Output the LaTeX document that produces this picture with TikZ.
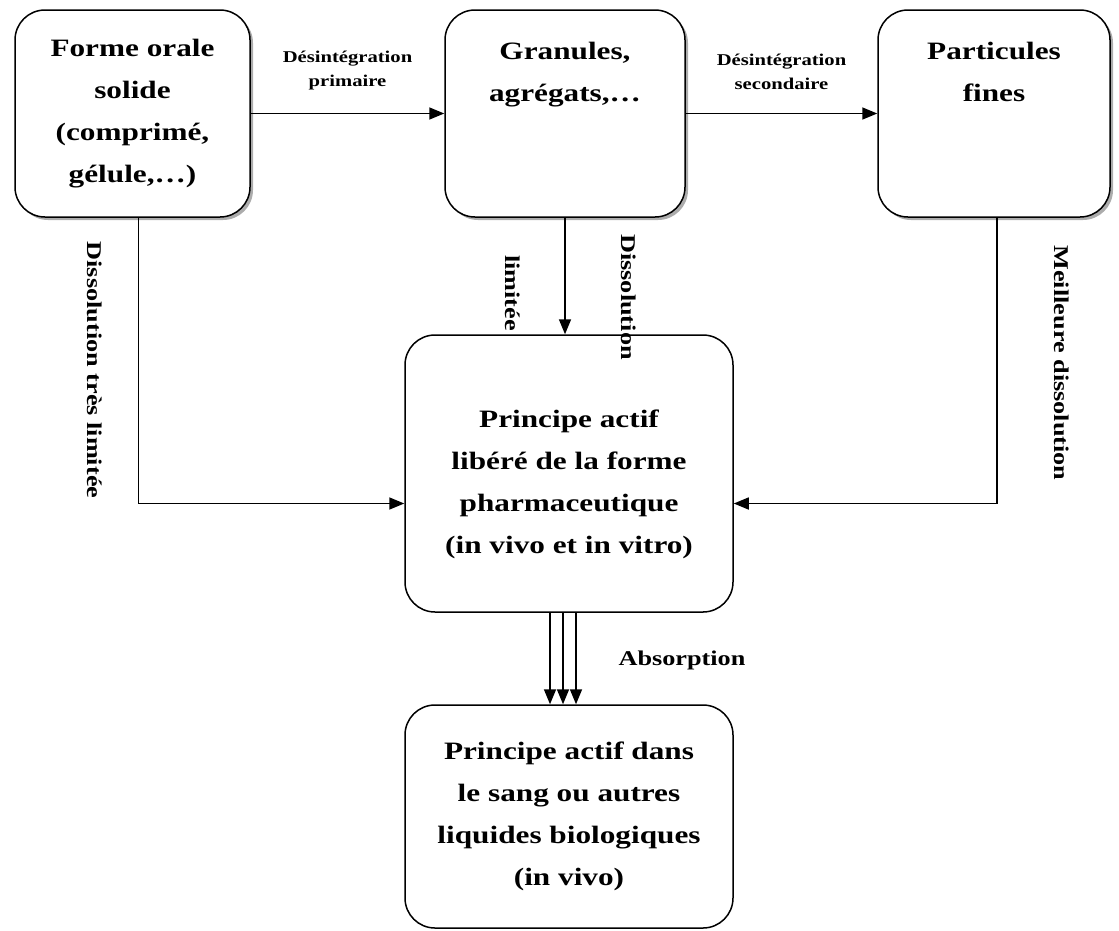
\documentclass[tikz,border=0pt]{standalone}
\usepackage{fontspec}
\setmainfont[FakeStretch=1.25]{Liberation Serif}
\usepackage{tikz}
\usetikzlibrary{arrows.meta, positioning, shadows}

\begin{document}
\begin{tikzpicture}[x=1pt, y=-1pt]
\tikzset{
  etape/.style={rectangle,rounded corners=30pt,draw=black,line width=1.5pt,fill=white,align=center,inner sep=0pt,font=\fontsize{25}{42}\selectfont\bfseries},
  ombre/.style={drop shadow={shadow xshift=3pt,shadow yshift=-3pt,fill=black!65}},
  ar/.style={-{Triangle[length=15pt,width=12pt]},line width=1.6pt,draw=black},
  lab/.style={font=\fontsize{16.5}{24}\selectfont\bfseries,align=center,inner sep=1pt},
  vlab/.style={font=\fontsize{21}{25}\selectfont\bfseries,rotate=-90,inner sep=1pt}
}
\useasboundingbox (0,0) rectangle (1119,930);
% ---- les formes
\node[etape,ombre,minimum width=235pt,minimum height=207pt] (forme) at (132.5,113.5) {Forme orale\\solide\\(comprimé,\\gélule,…)};
\node[etape,ombre,minimum width=240pt,minimum height=207pt] (gran) at (565,113.5) {Granules,\\agrégats,…\\~\\~};
\node[etape,ombre,minimum width=232pt,minimum height=207pt] (fines) at (994,113.5) {Particules\\fines\\~\\~};
\node[etape,minimum width=328pt,minimum height=277pt] (pa) at (569,473.5) {~\\[-2pt]Principe actif\\libéré de la forme\\pharmaceutique\\(in vivo et in vitro)};
\node[etape,minimum width=328pt,minimum height=223pt] (sang) at (569,816.5) {Principe actif dans\\le sang ou autres\\liquides biologiques\\(in vivo)};
% ---- les labels verticaux
\node[vlab] (dtl) at (95,370) {Dissolution très limitée};
\node[vlab] (lim) at (513,293) {limitée};
\node[vlab] (dis) at (629,297) {Dissolution};
\node[vlab] (mdi) at (1062,363) {Meilleure dissolution};
\node[lab,font=\fontsize{21}{25}\selectfont\bfseries] (abs) at (682,660) {Absorption};
% ---- les flèches
\draw[ar] (forme.east) -- node[lab,above=22pt] {Désintégration\\primaire} (gran.west);
\draw[ar] (gran.east) -- node[lab,above=22pt] {Désintégration\\secondaire} (fines.west);
\draw[ar] (gran.south) -- (gran.south |- pa.north);
\draw[ar] ([xshift=6pt]forme.south) |- ([yshift=-30pt]pa.west);
\draw[ar] ([xshift=3pt]fines.south) |- ([yshift=-30pt]pa.east);
\foreach \dx in {-19,-6,7}
  \draw[ar] ([xshift=\dx pt]pa.south) -- ([xshift=\dx pt]sang.north);
\end{tikzpicture}
\end{document}
